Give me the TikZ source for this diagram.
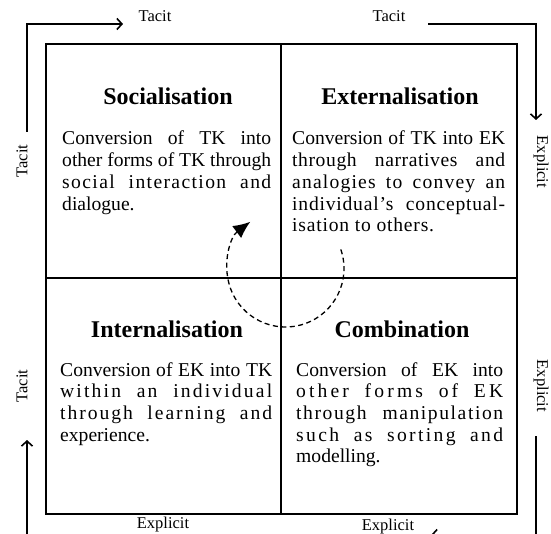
\documentclass[tikz,border=0pt]{standalone}
\usepackage{fontspec}
\setmainfont{Liberation Serif}
\usetikzlibrary{arrows.meta,calc}
\newcommand\jl[2][0]{\makebox[\linewidth][s]{\addfontfeature{LetterSpace=#1}#2}}
\newcommand\ls[2]{{\addfontfeature{LetterSpace=#1}#2}}
\begin{document}
\begin{tikzpicture}[x=1pt,y=1pt,
  boxline/.style={line width=1.8pt},
  guide/.style={line width=1.3pt},
  barb/.style={-{Straight Barb[length=5pt,width=11pt,line width=1.6pt]}},
  title/.style={anchor=base,inner sep=0pt,font=\fontsize{24}{28}\selectfont\bfseries},
  body/.style={anchor=base west,inner sep=0pt,font=\fontsize{19.6}{21.7}\selectfont},
  lab/.style={inner sep=0pt,font=\fontsize{16.5}{19}\selectfont},
  cycle/.style={line width=1.3pt,dash pattern=on 5pt off 3.5pt,-{Latex[length=17pt,width=15pt]}}]
\clip (0,0) rectangle (551,533);
% quadrant frame
\coordinate (nw) at (46,489);
\coordinate (se) at (517,19);
\coordinate (tm) at (281,489);
\coordinate (bm) at (281,19);
\coordinate (ml) at (46,255);
\coordinate (mr) at (517,255);
\draw[boxline] (nw) rectangle (se);
\draw[boxline] (tm) -- (bm);
\draw[boxline] (ml) -- (mr);
% titles
\node[title] (soc) at (168,428) {Socialisation};
\node[title] (ext) at (400,428) {Externalisation};
\node[title] (int) at (167,195) {Internalisation};
\node[title] (com) at (402,195) {Combination};
% bodies
\node[body] (socb) at (62,388) {\parbox[t]{209pt}{%
  \jl{Conversion of TK into}\\
  \jl{other forms of TK through}\\
  \jl[7]{social interaction and}\\
  dialogue.}};
\node[body] (extb) at (292,388) {\parbox[t]{213pt}{%
  \jl{Conversion of TK into EK}\\
  \jl[3]{through narratives and}\\
  \jl[6]{analogies to convey an}\\
  \jl[4]{individual’s conceptual-}\\
  \ls{4}{isation to others.}}};
\node[body] (intb) at (60,157) {\parbox[t]{212pt}{%
  \jl{Conversion of EK into TK}\\
  \jl[11]{within an individual}\\
  \jl[10]{through learning and}\\
  experience.}};
\node[body] (comb) at (296,157) {\parbox[t]{207pt}{%
  \jl{Conversion of EK into}\\
  \jl[16]{other forms of EK}\\
  \jl[8]{through manipulation}\\
  \jl[12]{such as sorting and}\\
  modelling.}};
% outer labels
\node[lab,anchor=base] (tt1) at (155,511) {Tacit};
\node[lab,anchor=base] (tt2) at (389,511) {Tacit};
\node[lab,rotate=90] (tl1) at (22,372) {Tacit};
\node[lab,rotate=90] (tl2) at (22,147) {Tacit};
\node[lab,rotate=-90] (er1) at (541,371) {Explicit};
\node[lab,rotate=-90] (er2) at (541,147) {Explicit};
\node[lab,anchor=base] (eb1) at (163,5) {Explicit};
\node[lab,anchor=base] (eb2) at (388,3) {Explicit};
% outer guide arrows
\coordinate (a1s) at (27,401);
\coordinate (a1c) at (27,509);
\coordinate (a1e) at (123,509);
\coordinate (a2s) at (428,509);
\coordinate (a2c) at (536,509);
\coordinate (a2e) at (536,413);
\coordinate (a3s) at (536,97);
\coordinate (a3c) at (536,-2);
\coordinate (a3e) at (431,-2);
\coordinate (a4s) at (123,-2);
\coordinate (a4c) at (27,-2);
\coordinate (a4e) at (27,93);
\draw[guide,barb] (a1s) -- (a1c) -- (a1e);
\draw[guide,barb] (a2s) -- (a2c) -- (a2e);
\draw[guide,barb] (a3s) -- (a3c) -- (a3e);
\draw[guide,barb] (a4s) -- (a4c) -- (a4e);
% SECI cycle
\coordinate (cc) at (285.5,264.5);
\draw[cycle] ($(cc)+(19:58.5)$) arc[start angle=19,end angle=-233,radius=58.5];
\end{tikzpicture}
\end{document}
